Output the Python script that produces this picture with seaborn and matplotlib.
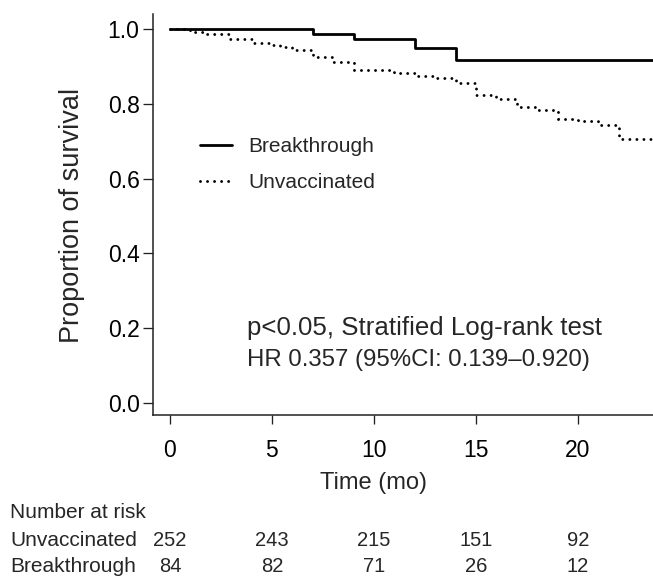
import numpy as np
import pandas as pd
import matplotlib
matplotlib.use("Agg")
import matplotlib.pyplot as plt
import seaborn as sns

# ---- data ----
groups = ["Breakthrough", "Unvaccinated"]
bt_time = [0, 7.0, 9.0, 12.0, 14.0, 24.0]
bt_surv = [1.0, 0.987, 0.973, 0.950, 0.917, 0.917]
uv_time = [0, 1.0, 1.8, 2.95, 4.0, 5.0, 5.4, 6.0, 7.0, 8.0, 9.0, 11.0, 12.0,
           13.0, 14.0, 15.0, 16.0, 17.0, 18.0, 19.0, 20.0, 21.0, 22.0, 24.0]
uv_surv = [1.0, 0.991, 0.986, 0.974, 0.962, 0.956, 0.951, 0.944, 0.926, 0.911,
           0.890, 0.883, 0.874, 0.868, 0.856, 0.824, 0.812, 0.792, 0.783, 0.759,
           0.753, 0.743, 0.707, 0.707]
risk_times = [0, 5, 10, 15, 20]
risk_unvacc = [252, 243, 215, 151, 92]
risk_break = [84, 82, 71, 26, 12]
x_ticks = [0, 5, 10, 15, 20]
y_ticks = [0.0, 0.2, 0.4, 0.6, 0.8, 1.0]

df = pd.concat([
    pd.DataFrame({"time": bt_time, "surv": bt_surv, "group": groups[0]}),
    pd.DataFrame({"time": uv_time, "surv": uv_surv, "group": groups[1]}),
], ignore_index=True)

sns.set_style("ticks")
FONT = ["Liberation Sans", "DejaVu Sans"]
plt.rcParams["font.family"] = FONT
INK = "#222222"

W, H = 653, 578
fig = plt.figure(figsize=(W / 100, H / 100), dpi=100)
ax = fig.add_axes([153 / W, 163 / H, 500 / W, 401 / H])

sns.lineplot(data=df, x="time", y="surv", hue="group", style="group",
             hue_order=groups, style_order=groups,
             palette={groups[0]: "black", groups[1]: "black"},
             dashes={groups[0]: "", groups[1]: (0.01, 2.4)},
             drawstyle="steps-post", estimator=None, sort=True,
             legend=False, ax=ax)
ax.lines[0].set_linewidth(2.0)
ax.lines[1].set_linewidth(2.1)
ax.lines[1].set_dash_capstyle("round")

ax.set_xlim(-0.83, 23.68)
ax.set_ylim(-0.032, 1.04)
ax.set_xticks(x_ticks)
ax.set_yticks(y_ticks)
ax.set_yticklabels([f"{v:.1f}" for v in y_ticks])
ax.set_xlabel("")
ax.set_ylabel("")
for s in ["top", "right"]:
    ax.spines[s].set_visible(False)
for s in ["left", "bottom"]:
    ax.spines[s].set_linewidth(1.1)
    ax.spines[s].set_color(INK)
ax.tick_params(axis="y", length=7.2, width=0.95, color=INK, pad=2.5,
               labelsize=16.5, labelcolor="black")
ax.tick_params(axis="x", length=6.5, width=0.95, color=INK, pad=11,
               labelsize=16.5, labelcolor="black")

ax.legend(ax.lines[:2], groups, loc="upper left",
          bbox_to_anchor=(200 / W, 1 - 137 / H), bbox_transform=fig.transFigure,
          frameon=False, fontsize=15, handlelength=1.55, handletextpad=0.75,
          labelspacing=0.84, borderpad=0, borderaxespad=0)

fig.text(72 / W, 1 - 215 / H, "Proportion of survival", rotation=90,
         ha="center", va="center", fontsize=19.5)
fig.text(373 / W, 1 - 483 / H, "Time (mo)", ha="center", va="center", fontsize=17)
fig.text(247 / W, 1 - 328 / H, "p<0.05, Stratified Log-rank test",
         ha="left", va="center", fontsize=18.6)
fig.text(247 / W, 1 - 360 / H, "HR 0.357 (95%CI: 0.139\u20130.920)",
         ha="left", va="center", fontsize=17.3)

fig.text(10 / W, 1 - 513 / H, "Number at risk", ha="left", va="center", fontsize=15)
fig.text(10 / W, 1 - 540 / H, "Unvaccinated", ha="left", va="center", fontsize=15)
fig.text(10 / W, 1 - 567 / H, "Breakthrough", ha="left", va="center", fontsize=15)
trans = ax.get_xaxis_transform()
for t, a, b in zip(risk_times, risk_unvacc, risk_break):
    ax.text(t, (415 - 540) / 401, str(a), transform=trans, ha="center",
            va="center", fontsize=14.5, clip_on=False)
    ax.text(t, (415 - 567) / 401, str(b), transform=trans, ha="center",
            va="center", fontsize=14.5, clip_on=False)

fig.savefig("out.png", dpi=100)
